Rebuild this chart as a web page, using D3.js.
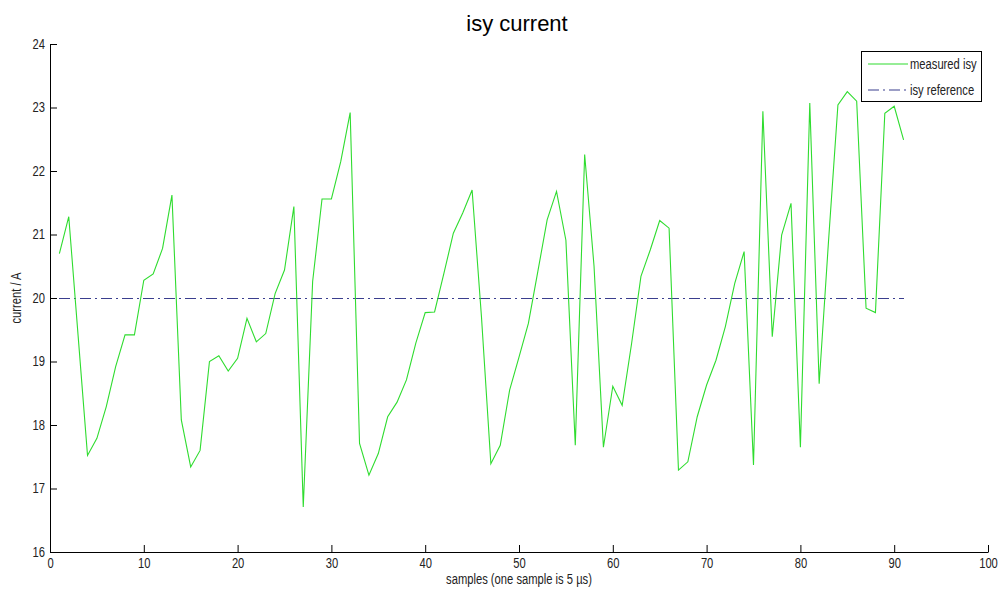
<!DOCTYPE html>
<html>
<head>
<meta charset="utf-8">
<script src="https://cdn.jsdelivr.net/npm/d3@7"></script>
<style>
  body { margin: 0; background: #fff; }
  svg { display: block; }
  .tick text { font-family: "Liberation Sans", Arial, sans-serif; font-size: 14px; fill: #222; }
</style>
</head>
<body>
<svg id="chart" width="1000" height="596"></svg>
<script>
const samples = d3.range(1, 92);
const measuredIsy = [
  20.70, 21.28, 19.40, 17.52, 17.79, 18.29, 18.92, 19.42, 19.42, 20.28,
  20.38, 20.78, 21.62, 18.08, 17.34, 17.60, 19.00, 19.09, 18.85, 19.05,
  19.68, 19.31, 19.44, 20.07, 20.44, 21.44, 16.71, 20.26, 21.56, 21.56,
  22.15, 22.92, 17.71, 17.21, 17.55, 18.13, 18.36, 18.71, 19.29, 19.77,
  19.78, 20.39, 21.02, 21.34, 21.70, 19.70, 17.39, 17.68, 18.55, 19.07,
  19.60, 20.41, 21.23, 21.68, 20.91, 17.68, 22.26, 20.50, 17.65, 18.61,
  18.31, 19.28, 20.34, 20.76, 21.22, 21.10, 17.29, 17.42, 18.13, 18.63,
  19.02, 19.55, 20.23, 20.73, 17.37, 22.94, 19.39, 20.99, 21.49, 17.65,
  23.07, 18.65, 20.90, 23.04, 23.25, 23.10, 19.84, 19.77, 22.91, 23.02,
  22.49
];
const isyReference = samples.map(() => 20);
const xTicks = [0, 10, 20, 30, 40, 50, 60, 70, 80, 90, 100];
const yTicks = [16, 17, 18, 19, 20, 21, 22, 23, 24];
const legendLabels = ["measured isy", "isy reference"];

const svg = d3.select("#chart");
const pL = 50, pR = 988, pT = 44, pB = 552;
const x = d3.scaleLinear().domain([0, 100]).range([pL, pR]);
const y = d3.scaleLinear().domain([16, 24]).range([pB, pT]);

const green = "#2fdc2f";
const navy = "#3a3e8e";
const font = '"Liberation Sans", Arial, sans-serif';
const SQUEEZE = 0.8;

function squeeze(sel) {
  sel.each(function() {
    const w = this.getComputedTextLength();
    d3.select(this).attr("textLength", w * SQUEEZE).attr("lengthAdjust", "spacingAndGlyphs");
  });
}

const xAxis = d3.axisBottom(x).tickValues(xTicks).tickSizeInner(-7).tickSizeOuter(0).tickPadding(12);
const yAxis = d3.axisLeft(y).tickValues(yTicks).tickSizeInner(-7).tickSizeOuter(0).tickPadding(4);

const gx = svg.append("g").attr("transform", `translate(0,${pB})`).call(xAxis);
const gy = svg.append("g").attr("transform", `translate(${pL},0)`).call(yAxis);
[gx, gy].forEach(g => {
  g.select(".domain").attr("stroke", "#000").attr("stroke-width", 1);
  g.selectAll(".tick line").attr("stroke", "#000");
  squeeze(g.selectAll(".tick text"));
});
gx.selectAll(".tick text").attr("dy", "0.25em");
gy.selectAll(".tick text").attr("dx", "-1");

const line = d3.line().x((d, i) => x(samples[i])).y(d => y(d));
svg.append("path").datum(isyReference)
  .attr("d", line).attr("fill", "none")
  .attr("stroke", navy).attr("stroke-width", 1)
  .attr("shape-rendering", "crispEdges")
  .attr("stroke-dasharray", "11,4,2,4");

svg.append("path").datum(measuredIsy)
  .attr("d", line).attr("fill", "none")
  .attr("stroke", green).attr("stroke-width", 1.1)
  .attr("stroke-linejoin", "miter");

svg.append("text").attr("x", 517).attr("y", 31)
  .attr("text-anchor", "middle")
  .attr("font-family", font)
  .attr("font-size", 22).attr("fill", "#000")
  .text("isy current");

svg.append("text").attr("x", 519).attr("y", 584)
  .attr("text-anchor", "middle")
  .attr("font-family", font).attr("font-size", 14).attr("fill", "#222")
  .text("samples (one sample is 5 \u00B5s)")
  .call(squeeze);
svg.append("text")
  .attr("transform", "translate(21,298) rotate(-90)")
  .attr("text-anchor", "middle")
  .attr("font-family", font).attr("font-size", 14).attr("fill", "#222")
  .text("current / A")
  .call(squeeze);

const lg = svg.append("g");
lg.append("rect").attr("x", 861.5).attr("y", 51.5).attr("width", 120).attr("height", 50)
  .attr("fill", "#fff").attr("stroke", "#000").attr("stroke-width", 1);
const legendStyles = [
  { color: green, dash: null },
  { color: navy, dash: "11,4,2,4" }
];
legendLabels.forEach((lab, i) => {
  const yy = 64 + i * 26;
  lg.append("line").attr("x1", 868).attr("x2", 908).attr("y1", yy).attr("y2", yy)
    .attr("stroke", legendStyles[i].color).attr("stroke-width", 1.2)
    .attr("stroke-dasharray", legendStyles[i].dash);
  lg.append("text").attr("x", 910).attr("y", yy).attr("dy", "0.35em")
    .attr("font-family", font).attr("font-size", 14).attr("fill", "#222")
    .text(lab)
    .call(squeeze);
});
</script>
</body>
</html>
